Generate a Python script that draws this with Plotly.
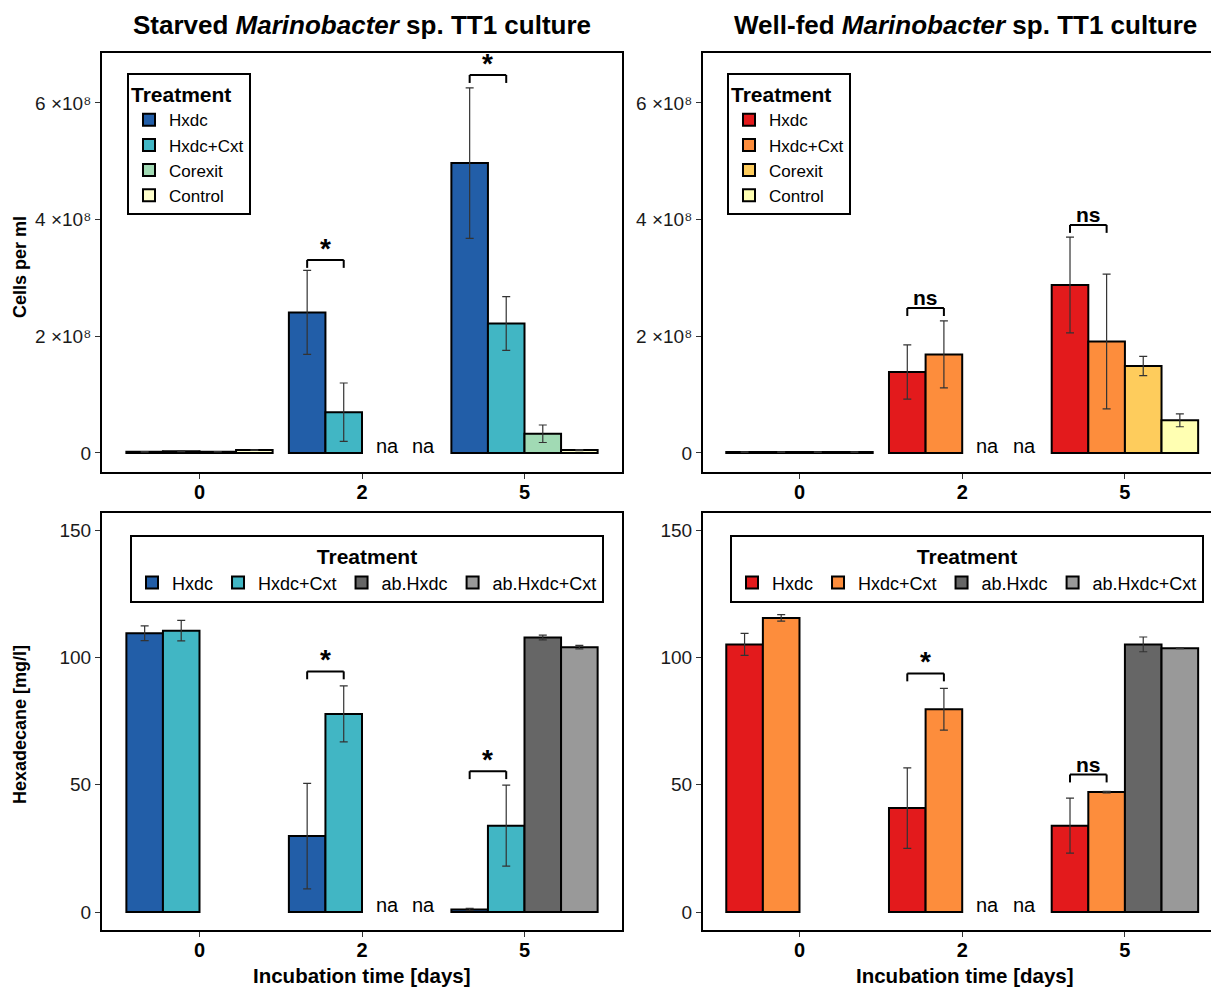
import plotly.graph_objects as go

# ---------------- data ----------------
days = ["0", "2", "5"]
cell_treatments = ["Hxdc", "Hxdc+Cxt", "Corexit", "Control"]
hex_treatments = ["Hxdc", "Hxdc+Cxt", "ab.Hxdc", "ab.Hxdc+Cxt"]

# Starved culture, cells per ml
starved_hxdc_cells = [2.0e6, 2.41e8, 4.97e8]
starved_hxdc_cells_err = [0.5e6, 0.72e8, 1.29e8]
starved_cxt_cells = [3.0e6, 0.70e8, 2.22e8]
starved_cxt_cells_err = [0.8e6, 0.50e8, 0.46e8]
starved_corexit_cells = [2.0e6, None, 0.33e8]
starved_corexit_cells_err = [0.3e6, None, 0.15e8]
starved_control_cells = [5.0e6, None, 0.05e8]
starved_control_cells_err = [0.5e6, None, 0.01e8]

# Well-fed culture, cells per ml
fed_hxdc_cells = [1.5e6, 1.39e8, 2.88e8]
fed_hxdc_cells_err = [0.3e6, 0.465e8, 0.82e8]
fed_cxt_cells = [1.5e6, 1.69e8, 1.91e8]
fed_cxt_cells_err = [0.3e6, 0.575e8, 1.155e8]
fed_corexit_cells = [1.5e6, None, 1.49e8]
fed_corexit_cells_err = [0.3e6, None, 0.165e8]
fed_control_cells = [1.5e6, None, 0.56e8]
fed_control_cells_err = [0.3e6, None, 0.11e8]

# Starved culture, hexadecane mg/l
starved_hxdc_hex = [109.5, 29.8, 1.0]
starved_hxdc_hex_err = [2.9, 20.7, 0.4]
starved_cxt_hex = [110.5, 77.8, 33.9]
starved_cxt_hex_err = [4.0, 11.0, 15.9]
starved_abhxdc_hex = [None, None, 107.8]
starved_abhxdc_hex_err = [None, None, 0.9]
starved_abcxt_hex = [None, None, 104.0]
starved_abcxt_hex_err = [None, None, 0.7]

# Well-fed culture, hexadecane mg/l
fed_hxdc_hex = [105.1, 40.8, 33.9]
fed_hxdc_hex_err = [4.3, 15.8, 10.8]
fed_cxt_hex = [115.5, 79.6, 47.1]
fed_cxt_hex_err = [1.3, 8.2, 0.3]
fed_abhxdc_hex = [None, None, 105.1]
fed_abhxdc_hex_err = [None, None, 2.9]
fed_abcxt_hex = [None, None, 103.6]
fed_abcxt_hex_err = [None, None, 0.2]

# significance brackets: day index, bracket level, label
starved_cells_sig_day = [1, 2]
starved_cells_sig_level = [3.31e8, 6.48e8]
starved_cells_sig_label = ["*", "*"]
fed_cells_sig_day = [1, 2]
fed_cells_sig_level = [2.485e8, 3.91e8]
fed_cells_sig_label = ["ns", "ns"]
starved_hex_sig_day = [1, 2]
starved_hex_sig_level = [94.5, 55.3]
starved_hex_sig_label = ["*", "*"]
fed_hex_sig_day = [1, 2]
fed_hex_sig_level = [93.7, 54.0]
fed_hex_sig_label = ["*", "ns"]

# missing measurements ("na"): day index, treatment slot
na_day = [1, 1]
na_slot = [2, 3]

cell_ticks = [0, 2e8, 4e8, 6e8]
cell_ticktext = ["0", "2 \u00d710\u2078", "4 \u00d710\u2078", "6 \u00d710\u2078"]
hex_ticks = [0, 50, 100, 150]

# ---------------- style ----------------
FONT = "Liberation Sans, Arial, DejaVu Sans, sans-serif"
blues = ["#225ea8", "#41b6c4", "#a1dab4", "#ffffcc"]
reds = ["#e31a1c", "#fd8d3c", "#fecc5c", "#ffffb2"]
greys = ["#666666", "#999999"]

W, H = 1211, 988
def px_x(p):
    return p / W
def px_y(p):
    return 1 - p / H

GROUP = 0.9
NBARS = 4
BW = GROUP / NBARS

def slot_x(day_idx, slot):
    return day_idx - GROUP / 2 + BW * (slot + 0.5)

fig = go.Figure()

panels = [
    ("x", "y", "legend",
     [(starved_hxdc_cells, starved_hxdc_cells_err), (starved_cxt_cells, starved_cxt_cells_err),
      (starved_corexit_cells, starved_corexit_cells_err), (starved_control_cells, starved_control_cells_err)],
     blues, cell_treatments),
    ("x2", "y2", "legend2",
     [(fed_hxdc_cells, fed_hxdc_cells_err), (fed_cxt_cells, fed_cxt_cells_err),
      (fed_corexit_cells, fed_corexit_cells_err), (fed_control_cells, fed_control_cells_err)],
     reds, cell_treatments),
    ("x3", "y3", "legend3",
     [(starved_hxdc_hex, starved_hxdc_hex_err), (starved_cxt_hex, starved_cxt_hex_err),
      (starved_abhxdc_hex, starved_abhxdc_hex_err), (starved_abcxt_hex, starved_abcxt_hex_err)],
     blues[:2] + greys, hex_treatments),
    ("x4", "y4", "legend4",
     [(fed_hxdc_hex, fed_hxdc_hex_err), (fed_cxt_hex, fed_cxt_hex_err),
      (fed_abhxdc_hex, fed_abhxdc_hex_err), (fed_abcxt_hex, fed_abcxt_hex_err)],
     reds[:2] + greys, hex_treatments),
]

xpos = list(range(len(days)))
for xa, ya, lg, series, cols, names in panels:
    for (vals, errs), col, name in zip(series, cols, names):
        keep = [i for i, v in enumerate(vals) if v is not None]
        fig.add_trace(go.Bar(
            x=[xpos[i] for i in keep], y=[vals[i] for i in keep],
            name=name, xaxis=xa, yaxis=ya, legend=lg,
            marker=dict(color=col, line=dict(color="black", width=2)),
            error_y=dict(type="data", array=[errs[i] for i in keep], visible=True,
                         color="#333333", thickness=1.2, width=4),
            showlegend=True, hoverinfo="skip",
        ))

# domains
dom_x_left = [px_x(102), px_x(622)]
dom_x_right = [px_x(703), 1.0]
dom_y_top = [px_y(472), px_y(53)]
dom_y_bot = [px_y(930), px_y(513)]

cell_range = [-0.326e8, 6.857e8]
hex_range = [-7.07, 156.7]
x_range_left = [-0.6, 2.6]
x_range_right = [-0.593, 2.529]

tick_font = dict(family=FONT, size=19, color="#1a1a1a")

def xaxis(dom, rng, anchor):
    return dict(domain=dom, range=rng, anchor=anchor, tickmode="array", tickvals=xpos,
                ticktext=days, showgrid=False, zeroline=False,
                showline=True, linecolor="black", linewidth=2, mirror=True,
                ticks="outside", ticklen=5, tickwidth=1, tickcolor="#333333",
                ticklabelstandoff=-4,
                tickfont=dict(family=FONT, size=20, color="black", weight="bold"),
                fixedrange=True)

def yaxis(dom, rng, anchor, tv, tt, mirror):
    return dict(domain=dom, range=rng, anchor=anchor, tickmode="array", tickvals=tv,
                ticktext=tt, showgrid=False, zeroline=False,
                showline=True, linecolor="black", linewidth=2, mirror=mirror,
                ticks="outside", ticklen=5, tickwidth=1, tickcolor="#333333",
                tickfont=tick_font, fixedrange=True)

fig.update_layout(
    xaxis=xaxis(dom_x_left, x_range_left, "y"),
    yaxis=yaxis(dom_y_top, cell_range, "x", cell_ticks, cell_ticktext, True),
    xaxis2=xaxis(dom_x_right, x_range_right, "y2"),
    yaxis2=yaxis(dom_y_top, cell_range, "x2", cell_ticks, cell_ticktext, False),
    xaxis3=xaxis(dom_x_left, x_range_left, "y3"),
    yaxis3=yaxis(dom_y_bot, hex_range, "x3", hex_ticks, [str(v) for v in hex_ticks], True),
    xaxis4=xaxis(dom_x_right, x_range_right, "y4"),
    yaxis4=yaxis(dom_y_bot, hex_range, "x4", hex_ticks, [str(v) for v in hex_ticks], False),
)

def legend(x, y, horizontal):
    title = dict(text="Treatment", font=dict(family=FONT, size=21, color="black", weight="bold"))
    d = dict(x=x, y=y, xanchor="left", yanchor="top", bgcolor="white",
             bordercolor="black", borderwidth=2,
             font=dict(family=FONT, size=(18 if horizontal else 17), color="black"),
             title=title, traceorder="normal", itemclick=False, itemdoubleclick=False)
    if horizontal:
        title["side"] = "top center"
        d.update(orientation="h", title=title)
    return d

fig.update_layout(
    legend=legend(px_x(127), px_y(73), False),
    legend2=legend(px_x(727), px_y(73), False),
    legend3=legend(px_x(130), px_y(535), True),
    legend4=legend(px_x(730), px_y(535), True),
)

annotations = []
shapes = []

# significance brackets
sig_sets = [
    ("x", "y", starved_cells_sig_day, starved_cells_sig_level, starved_cells_sig_label, cell_range),
    ("x2", "y2", fed_cells_sig_day, fed_cells_sig_level, fed_cells_sig_label, cell_range),
    ("x3", "y3", starved_hex_sig_day, starved_hex_sig_level, starved_hex_sig_label, hex_range),
    ("x4", "y4", fed_hex_sig_day, fed_hex_sig_level, fed_hex_sig_label, hex_range),
]
for xa, ya, sdays, levels, labels, rng in sig_sets:
    drop = 0.019 * (rng[1] - rng[0])
    for d, lv, lb in zip(sdays, levels, labels):
        x0, x1 = slot_x(d, 0), slot_x(d, 1)
        for (a0, b0, a1, b1) in [(x0, lv - drop, x0, lv), (x0, lv, x1, lv), (x1, lv, x1, lv - drop)]:
            shapes.append(dict(type="line", xref=xa, yref=ya, x0=a0, y0=b0, x1=a1, y1=b1,
                               line=dict(color="black", width=2)))
        annotations.append(dict(xref=xa, yref=ya, x=(x0 + x1) / 2, y=lv, text=lb,
                                showarrow=False, yanchor="bottom",
                                yshift=(-6 if lb == "*" else -3),
                                font=dict(family=FONT, size=(28 if lb == "*" else 21),
                                          color="black", weight="bold")))

# "na" labels
for xa, ya in [("x", "y"), ("x2", "y2"), ("x3", "y3"), ("x4", "y4")]:
    for d, s in zip(na_day, na_slot):
        annotations.append(dict(xref=xa, yref=ya, x=slot_x(d, s), y=0, text="na",
                                showarrow=False, yanchor="middle", xshift=7, yshift=7,
                                font=dict(family=FONT, size=20, color="black")))

# titles
annotations.append(dict(xref="paper", yref="paper", x=px_x(362), y=px_y(25),
                        text="Starved <i>Marinobacter</i> sp. TT1 culture",
                        showarrow=False, xanchor="center", yanchor="middle",
                        font=dict(family=FONT, size=26, color="black", weight="bold")))
annotations.append(dict(xref="paper", yref="paper", x=px_x(965), y=px_y(25),
                        text="Well-fed <i>Marinobacter</i> sp. TT1 culture",
                        showarrow=False, xanchor="center", yanchor="middle",
                        font=dict(family=FONT, size=26, color="black", weight="bold")))
# axis titles
annotations.append(dict(xref="paper", yref="paper", x=px_x(20), y=px_y(267),
                        text="Cells per ml", textangle=-90, showarrow=False,
                        xanchor="center", yanchor="middle",
                        font=dict(family=FONT, size=18, color="black", weight="bold")))
annotations.append(dict(xref="paper", yref="paper", x=px_x(20), y=px_y(725),
                        text="Hexadecane [mg/l]", textangle=-90, showarrow=False,
                        xanchor="center", yanchor="middle",
                        font=dict(family=FONT, size=18, color="black", weight="bold")))
for cx in (362, 965):
    annotations.append(dict(xref="paper", yref="paper", x=px_x(cx), y=px_y(975),
                            text="Incubation time [days]", showarrow=False,
                            xanchor="center", yanchor="middle",
                            font=dict(family=FONT, size=20.5, color="black", weight="bold")))

fig.update_layout(
    annotations=annotations, shapes=shapes,
    width=W, height=H, margin=dict(l=0, r=0, t=0, b=0),
    paper_bgcolor="white", plot_bgcolor="white",
    barmode="group", bargap=0.1, bargroupgap=0.0,
    font=dict(family=FONT, color="black"),
    showlegend=True, hovermode=False,
)

fig.write_html("out.html", config={"displayModeBar": False})
